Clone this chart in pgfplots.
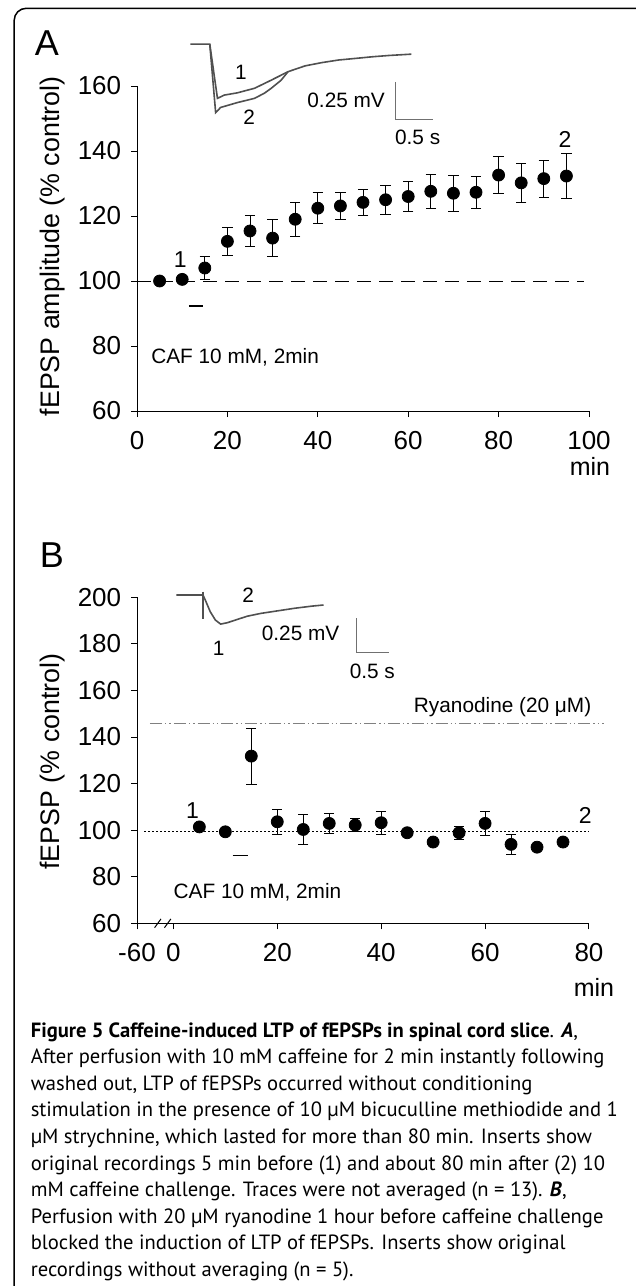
\documentclass[border=0pt]{standalone}
\usepackage{fontspec}
\setmainfont{Liberation Sans}
\newfontfamily\capfont{PT Sans}
\usepackage{pgfplots}
\pgfplotsset{compat=1.18}
\newcommand\ticfont{\fontsize{13}{15}\selectfont}
\newcommand\labfont{\fontsize{13.4}{15}\selectfont}
\newcommand\smfont{\fontsize{10.4}{12}\selectfont}
\newcommand\numfont{\fontsize{11.5}{13}\selectfont}
\newcommand\capfnt{\capfont\fontsize{10.3}{13.3}\selectfont}
\definecolor{trace}{HTML}{505050}
\definecolor{sbar}{HTML}{707070}
\pgfplotsset{
  panel/.style={scale only axis, clip=false,
    axis x line=bottom, axis y line=left, axis line style={-, black, line width=0.5pt},
    tick align=outside, major tick length=3pt,
    tick style={black, line width=0.5pt},
    ticklabel style={font=\ticfont},
    /pgf/number format/assume math mode=true,
    xticklabel style={yshift=-3.4pt},
    yticklabel style={xshift=-1.4pt}},
  dots/.style={only marks, mark=*, mark size=3pt, black,
    error bars/.cd, y dir=both, y explicit,
    error bar style={line width=0.5pt, black},
    error mark options={rotate=90, mark size=2.6pt, line width=0.5pt, black}}
}
\begin{document}
\begin{tikzpicture}
\useasboundingbox (0,0) rectangle (318pt,-643pt);
\draw[line width=0.75pt, rounded corners=6pt] (7.1pt,-660pt) -- (7.1pt,-4.15pt) -- (340pt,-4.15pt);
% panel letters
\node[font=\fontsize{18}{20}\selectfont] at (23.5pt,-21.5pt) {A};
\node[font=\fontsize{18}{20}\selectfont] at (26pt,-277.5pt) {B};
% y labels
\node[rotate=90, font=\labfont] at (26.5pt,-123.25pt) {fEPSP amplitude (\% control)};
\node[rotate=90, font=\labfont] at (26.5pt,-380.75pt) {fEPSP (\% control)};
% min labels
\node[font=\fontsize{12.5}{14}\selectfont] at (295pt,-233.35pt) {min};
\node[font=\fontsize{12.5}{14}\selectfont] at (297pt,-493.5pt) {min};

% ---------------- Panel A
\begin{axis}[panel, at={(68.5pt,-205.5pt)}, anchor=south west,
  width=226pt, height=162.5pt,
  xmin=0, xmax=100, ymin=60, ymax=160,
  xtick={0,20,40,60,80,100}, ytick={60,80,100,120,140,160}]
\addplot[black, line width=0.5pt, no marks, dash pattern=on 7pt off 4pt] coordinates {(0,100) (99,100)};
\addplot[black, line width=0.9pt, no marks] coordinates {(11.5,92.3) (14.5,92.3)};
% trace 1
\addplot[trace, line width=0.8pt, no marks] coordinates {
 (11.8,172.9) (16.1,172.9) (17.8,156.2) (19.3,157.2) (22.2,157.9) (26.0,159.3) (29.7,161.8)
 (33.4,164.4) (37.2,166.2) (40.9,167.2) (44.6,168.0) (48.4,168.5) (52.1,169.0) (55.8,169.4) (60.7,169.8)};
% trace 2
\addplot[trace, line width=0.8pt, no marks] coordinates {
 (16.1,172.9) (17.4,151.8) (18.5,153.4) (22.2,154.9) (26.0,156.2) (28.2,157.8) (29.7,159.3) (31.9,161.8) (33.4,164.4)};
\addplot[sbar, line width=0.6pt, no marks] coordinates {(57.2,161.3) (57.2,149.8) (65.4,149.8)};
\addplot[dots] coordinates {
 (5,100.0) +- (0,0)
 (10,100.5) +- (0,0)
 (15,104.0) +- (0,3.6)
 (20,112.2) +- (0,4.4)
 (25,115.4) +- (0,4.9)
 (30,113.2) +- (0,5.6)
 (35,119.0) +- (0,5.2)
 (40,122.4) +- (0,4.7)
 (45,123.1) +- (0,4.1)
 (50,124.2) +- (0,4.0)
 (55,125.0) +- (0,4.5)
 (60,126.0) +- (0,4.5)
 (65,127.6) +- (0,5.3)
 (70,127.0) +- (0,5.5)
 (75,127.3) +- (0,5.0)
 (80,132.6) +- (0,5.7)
 (85,130.2) +- (0,6.1)
 (90,131.5) +- (0,5.7)
 (95,132.3) +- (0,6.9)};
\node[font=\numfont] at (9.6,106.6) {1};
\node[font=\numfont] at (94.7,143.4) {2};
\node[font=\smfont, anchor=west] at (1.6,76.6) {CAF 10 mM, 2min};
\node[font=\smfont, anchor=east] at (56.4,155.7) {0.25 mV};
\node[font=\smfont] at (62.1,144.2) {0.5 s};
\node[font=\smfont] at (23.0,164.1) {1};
\node[font=\smfont] at (24.8,150.4) {2};
\end{axis}

% ---------------- Panel B
\begin{axis}[panel, at={(68.5pt,-461.65pt)}, anchor=south west,
  width=226pt, height=163pt,
  xmin=-7, xmax=80, ymin=60, ymax=200,
  xtick={-7,0,20,40,60,80}, xticklabels={-60,0,20,40,60,80},
  ytick={60,80,100,120,140,160,180,200},
  x axis line style={line width=0.8pt}]
\addplot[black, line width=0.5pt, no marks, dash pattern=on 0.7pt off 1.3pt] coordinates {(-5.6,99.5) (80,99.5)};
\addplot[gray, line width=0.5pt, no marks, dash pattern=on 6pt off 1.5pt on 0.7pt off 1.5pt on 0.7pt off 1.5pt] coordinates {(-4.5,145.7) (82.8,145.7)};
\addplot[black, line width=0.9pt, no marks] coordinates {(11.4,89.1) (14.3,89.1)};
\addplot[trace, line width=0.8pt, no marks] coordinates {
 (0.6,201.0) (5.7,201.0) (6.15,198.8) (7.1,193.8) (8.1,190.2) (9.1,188.5) (10.4,189.1) (12.3,190.5)
 (14.25,191.9) (16.85,193.1) (20.1,194.2) (23.35,195.3) (26.6,196.2) (28.9,196.7)};
\addplot[trace, line width=0.7pt, no marks] coordinates {(5.7,202.4) (5.7,190.5)};
\addplot[sbar, line width=0.6pt, no marks] coordinates {(35.3,191) (35.3,176.2) (41.5,176.2)};
\addplot[dots] coordinates {
 (5,101.4) +- (0,0)
 (10,99.3) +- (0,0)
 (15,131.8) +- (0,12)
 (20,103.6) +- (0,5.3)
 (25,100.3) +- (0,6.5)
 (30,102.9) +- (0,4.3)
 (35,102.2) +- (0,2.9)
 (40,103.2) +- (0,5.0)
 (45,98.9) +- (0,0)
 (50,94.9) +- (0,0)
 (55,98.9) +- (0,2.8)
 (60,102.9) +- (0,5.0)
 (65,93.9) +- (0,4.3)
 (70,92.7) +- (0,0)
 (75,94.9) +- (0,0)};
\draw[black, line width=0.5pt] ([xshift=-1.6pt,yshift=-2.2pt]axis cs:-3.0,60) -- ([xshift=1.6pt,yshift=2.2pt]axis cs:-3.0,60);
\draw[black, line width=0.5pt] ([xshift=-1.6pt,yshift=-2.2pt]axis cs:-1.1,60) -- ([xshift=1.6pt,yshift=2.2pt]axis cs:-1.1,60);
\node[font=\numfont] at (3.7,108.4) {1};
\node[font=\numfont] at (79.3,106.2) {2};
\node[font=\smfont, anchor=west] at (-1.3,73.5) {CAF 10 mM, 2min};
\node[font=\smfont, anchor=east] at (81.8,153.0) {Ryanodine (20 μM)};
\node[font=\smfont, anchor=east] at (33.3,184.5) {0.25 mV};
\node[font=\smfont] at (38.3,168.0) {0.5 s};
\node[font=\smfont] at (8.7,178.1) {1};
\node[font=\smfont] at (14.4,201.0) {2};
\end{axis}

% ---------------- Caption
\begin{scope}[every node/.style={anchor=base west, inner sep=0pt, font=\capfnt}]
\node at (15.2pt,-518.5pt) {\textbf{Figure 5 Caffeine-induced LTP of fEPSPs in spinal cord slice}. \textbf{\textit{A}},};
\node at (15.2pt,-531.8pt) {After perfusion with 10 mM caffeine for 2 min instantly following};
\node at (15.2pt,-545.1pt) {washed out, LTP of fEPSPs occurred without conditioning};
\node at (15.2pt,-558.4pt) {stimulation in the presence of 10 µM bicuculline methiodide and 1};
\node at (15.2pt,-571.7pt) {µM strychnine, which lasted for more than 80 min. Inserts show};
\node at (15.2pt,-585.0pt) {original recordings 5 min before (1) and about 80 min after (2) 10};
\node at (15.2pt,-598.3pt) {mM caffeine challenge. Traces were not averaged (n = 13). \textbf{\textit{B}},};
\node at (15.2pt,-611.6pt) {Perfusion with 20 µM ryanodine 1 hour before caffeine challenge};
\node at (15.2pt,-624.9pt) {blocked the induction of LTP of fEPSPs. Inserts show original};
\node at (15.2pt,-638.2pt) {recordings without averaging (n = 5).};
\end{scope}
\end{tikzpicture}
\end{document}
